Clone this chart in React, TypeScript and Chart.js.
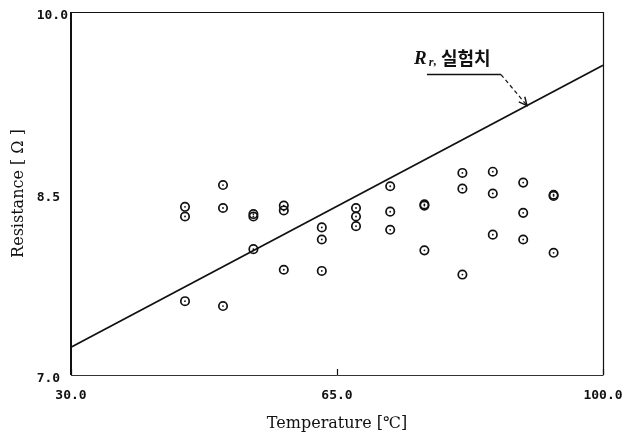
import React, { useEffect, useRef } from "react";
import { Chart, registerables } from "chart.js";

Chart.register(...registerables);

// Measured resistance samples (temperature in °C, resistance in Ω)
const measuredTemp = [
  45, 45, 45,
  50, 50, 50,
  54, 54, 54,
  58, 58, 58,
  63, 63, 63,
  67.5, 67.5, 67.5,
  72, 72, 72,
  76.5, 76.5, 76.5,
  81.5, 81.5, 81.5,
  85.5, 85.5, 85.5,
  89.5, 89.5, 89.5,
  93.5, 93.5, 93.5,
];
const measuredRes = [
  8.39, 8.31, 7.61,
  8.57, 8.38, 7.57,
  8.33, 8.31, 8.04,
  8.40, 8.36, 7.87,
  8.22, 8.12, 7.86,
  8.38, 8.31, 8.23,
  8.56, 8.35, 8.20,
  8.41, 8.40, 8.03,
  8.67, 8.54, 7.83,
  8.68, 8.50, 8.16,
  8.59, 8.34, 8.12,
  8.49, 8.48, 8.01,
];

// Straight reference line R_r
const lineTemp = [30, 100];
const lineRes = [7.23, 9.56];

// Where the "R_r,실험치" callout points on the line
const calloutTemp = 90;
const calloutLabel = "실험치";

const xTicks = [30, 65, 100];
const yTicks = [7.0, 8.5, 10.0];

const INK = "#111";

const framePlugin = {
  id: "frameAndCallout",
  afterDatasetsDraw(chart: any) {
    const { ctx, chartArea: a, scales } = chart;
    const xs = scales.x;
    const ys = scales.y;
    ctx.save();
    ctx.strokeStyle = INK;
    // frame: heavy left edge, light remaining edges
    ctx.lineWidth = 2;
    ctx.beginPath();
    ctx.moveTo(a.left, a.top);
    ctx.lineTo(a.left, a.bottom);
    ctx.stroke();
    ctx.lineWidth = 1.2;
    ctx.beginPath();
    ctx.moveTo(a.left, a.top + 0.5);
    ctx.lineTo(a.right + 0.5, a.top + 0.5);
    ctx.lineTo(a.right + 0.5, a.bottom);
    ctx.stroke();
    ctx.strokeStyle = "#333";
    ctx.lineWidth = 1;
    ctx.beginPath();
    ctx.moveTo(a.left, a.bottom + 0.5);
    ctx.lineTo(a.right + 0.5, a.bottom + 0.5);
    ctx.stroke();
    // inner tick marks on the temperature axis
    ctx.strokeStyle = INK;
    ctx.lineWidth = 1.2;
    for (const t of xTicks) {
      const px = Math.round(xs.getPixelForValue(t)) + 0.5;
      ctx.beginPath();
      ctx.moveTo(px, a.bottom);
      ctx.lineTo(px, a.bottom - 6);
      ctx.stroke();
    }

    // callout arrow to the line
    const f = (calloutTemp - lineTemp[0]) / (lineTemp[1] - lineTemp[0]);
    const calloutRes = lineRes[0] + f * (lineRes[1] - lineRes[0]);
    const tx = xs.getPixelForValue(calloutTemp);
    const ty = ys.getPixelForValue(calloutRes);
    const sx = tx - 26;
    const sy = ty - 31;
    ctx.lineWidth = 1.2;
    ctx.setLineDash([4, 3]);
    ctx.beginPath();
    ctx.moveTo(sx, sy);
    ctx.lineTo(tx, ty);
    ctx.stroke();
    ctx.setLineDash([]);
    // arrow head
    const ang = Math.atan2(ty - sy, tx - sx);
    const hl = 9;
    ctx.lineWidth = 1.4;
    ctx.beginPath();
    ctx.moveTo(tx - hl * Math.cos(ang - 0.45), ty - hl * Math.sin(ang - 0.45));
    ctx.lineTo(tx, ty);
    ctx.lineTo(tx - hl * Math.cos(ang + 0.45), ty - hl * Math.sin(ang + 0.45));
    ctx.stroke();
    // underline
    ctx.lineWidth = 1.6;
    ctx.beginPath();
    ctx.moveTo(tx - 100, sy);
    ctx.lineTo(sx, sy);
    ctx.stroke();
    // label text
    ctx.fillStyle = INK;
    ctx.textBaseline = "alphabetic";
    ctx.textAlign = "left";
    ctx.font = "italic bold 19px 'Liberation Serif'";
    const rx = tx - 113;
    const ry = ty - 42;
    ctx.fillText("R", rx, ry);
    const rw = ctx.measureText("R").width;
    ctx.font = "italic bold 12px 'Liberation Serif'";
    ctx.fillText("r", rx + rw + 2, ry + 2);
    ctx.fillText(",", rx + rw + 7, ry + 1);
    ctx.font = "bold 18px 'Noto Sans CJK KR'";
    ctx.fillText(calloutLabel, tx - 86, ry + 1);
    ctx.restore();
  },
};

export default function App() {
  const ref = useRef<HTMLCanvasElement | null>(null);

  useEffect(() => {
    if (!ref.current) return;
    const points = measuredTemp.map((t, i) => ({ x: t, y: measuredRes[i] }));
    const linePts = lineTemp.map((t, i) => ({ x: t, y: lineRes[i] }));
    const tickFont = { family: "'DejaVu Sans Mono'", weight: "bold" as const, size: 13 };

    const chart = new Chart(ref.current, {
      type: "scatter",
      data: {
        datasets: [
          {
            type: "line",
            data: linePts,
            borderColor: INK,
            borderWidth: 1.6,
            pointRadius: 0,
            fill: false,
            order: 3,
          } as any,
          {
            data: points,
            pointRadius: 4.2,
            pointBorderWidth: 1.7,
            pointBackgroundColor: "rgba(0,0,0,0)",
            pointBorderColor: INK,
            order: 2,
          },
          {
            data: points,
            pointRadius: 0.9,
            pointBorderWidth: 0,
            pointBackgroundColor: INK,
            order: 1,
          },
        ],
      },
      options: {
        animation: false,
        responsive: false,
        events: [],
        layout: { padding: { top: 12, right: 22, left: 0, bottom: 0 } },
        plugins: { legend: { display: false }, tooltip: { enabled: false } },
        scales: {
          x: {
            type: "linear",
            min: 30,
            max: 100,
            afterBuildTicks: (s: any) => {
              s.ticks = xTicks.map((v) => ({ value: v }));
            },
            afterFit: (s: any) => {
              s.height = 64;
              s.paddingLeft = 0;
              s.paddingRight = 0;
            },
            grid: { display: false, drawTicks: false },
            border: { display: false },
            ticks: {
              autoSkip: false,
              maxRotation: 0,
              padding: 13,
              color: INK,
              font: tickFont,
              callback: (v: any) => Number(v).toFixed(1),
            },
            title: {
              display: true,
              text: "Temperature [℃]",
              color: INK,
              font: { family: "'DejaVu Serif'", size: 16 },
              padding: { top: 0, bottom: 6 },
            },
          },
          y: {
            type: "linear",
            min: 7,
            max: 10,
            afterBuildTicks: (s: any) => {
              s.ticks = yTicks.map((v) => ({ value: v }));
            },
            afterFit: (s: any) => {
              s.width = 71;
              s.paddingTop = 0;
              s.paddingBottom = 0;
            },
            grid: { display: false, drawTicks: false },
            border: { display: false },
            ticks: {
              autoSkip: false,
              padding: 3,
              labelOffset: 4,
              color: INK,
              font: tickFont,
              callback: (v: any) => Number(v).toFixed(1).padEnd(4, " "),
            },
            title: {
              display: true,
              text: "Resistance [ Ω ]",
              color: INK,
              font: { family: "'DejaVu Serif'", size: 16 },
              padding: { top: 9, bottom: 0 },
            },
          },
        },
      },
      plugins: [framePlugin],
    });
    return () => chart.destroy();
  }, []);

  return (
    <div style={{ position: "fixed", left: 0, top: 0, width: 625, height: 439, background: "#fff" }}>
      <canvas ref={ref} width={625} height={439} />
    </div>
  );
}
